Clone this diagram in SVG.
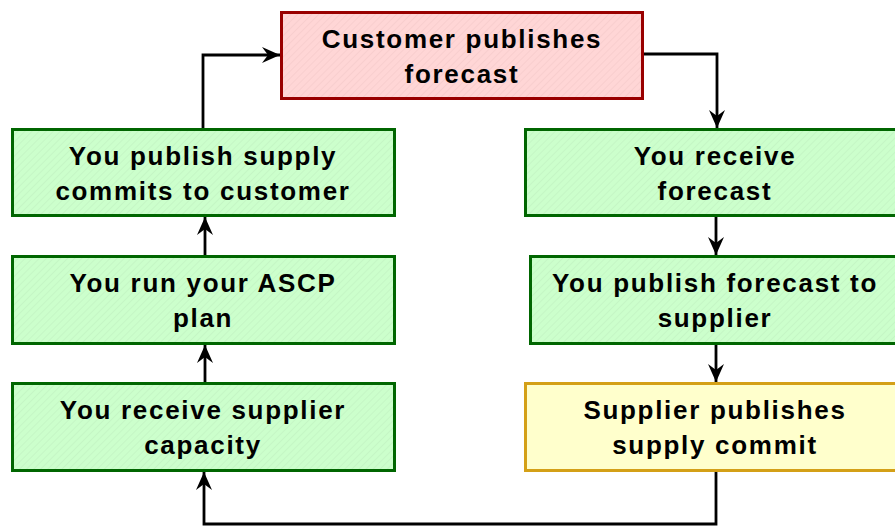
<svg xmlns="http://www.w3.org/2000/svg" width="895" height="529" viewBox="0 0 895 529">
<style>
.box{stroke-width:3}
.g{fill:url(#hg);stroke:#006600}
.r{fill:url(#hr);stroke:#990000}
.y{fill:#ffffcc;stroke:#d4a017}
.t{font-family:"Liberation Sans",Arial,sans-serif;font-weight:bold;font-size:26px;letter-spacing:1.7px;fill:#000;text-anchor:middle}
.c{fill:none;stroke:#000;stroke-width:2.8;marker-end:url(#ah)}
</style>
<defs>
<pattern id="hg" width="5" height="5" patternUnits="userSpaceOnUse" patternTransform="rotate(45)">
<rect width="5" height="5" fill="#ccffcc"/><line x1="0" y1="0" x2="0" y2="5" stroke="#c3f3c3" stroke-width="1.5"/>
</pattern>
<pattern id="hr" width="5" height="5" patternUnits="userSpaceOnUse" patternTransform="rotate(45)">
<rect width="5" height="5" fill="#ffd6d6"/><line x1="0" y1="0" x2="0" y2="5" stroke="#f6cccc" stroke-width="1.5"/>
</pattern>
<marker id="ah" markerWidth="20" markerHeight="16" refX="18" refY="8" orient="auto" markerUnits="userSpaceOnUse">
<path d="M0,0 L18,8 L0,16 L6,8 z" fill="#000"/>
</marker>
</defs>
<g id="connectors">
<path class="c" d="M203,129 V55 H280"/>
<path class="c" d="M643,54 H717 V128"/>
<path class="c" d="M716,216 V255"/>
<path class="c" d="M716,344 V382"/>
<path class="c" d="M716,471 V524 H204 V472"/>
<path class="c" d="M205,383 V345"/>
<path class="c" d="M205,256 V217"/>
</g>
<g id="customer">
<rect class="box r" x="281.5" y="12.5" width="361" height="86"/>
<text class="t" x="462" y="48">Customer publishes</text>
<text class="t" x="462" y="83">forecast</text>
</g>
<g id="receive">
<rect class="box g" x="525.5" y="129.5" width="380" height="86"/>
<text class="t" x="715" y="165">You receive</text>
<text class="t" x="715" y="200">forecast</text>
</g>
<g id="publishForecast">
<rect class="box g" x="530.5" y="256.5" width="375" height="87"/>
<text class="t" x="715" y="292">You publish forecast to</text>
<text class="t" x="715" y="327">supplier</text>
</g>
<g id="supplier">
<rect class="box y" x="525.5" y="383.5" width="380" height="87"/>
<text class="t" x="715" y="419">Supplier publishes</text>
<text class="t" x="715" y="454">supply commit</text>
</g>
<g id="receiveCapacity">
<rect class="box g" x="12.5" y="383.5" width="382" height="87"/>
<text class="t" x="203" y="419">You receive supplier</text>
<text class="t" x="203" y="454">capacity</text>
</g>
<g id="runPlan">
<rect class="box g" x="12.5" y="256.5" width="382" height="87"/>
<text class="t" x="203" y="292">You run your ASCP</text>
<text class="t" x="203" y="327">plan</text>
</g>
<g id="publishCommits">
<rect class="box g" x="12.5" y="129.5" width="382" height="86"/>
<text class="t" x="203" y="165">You publish supply</text>
<text class="t" x="203" y="200">commits to customer</text>
</g>
</svg>
